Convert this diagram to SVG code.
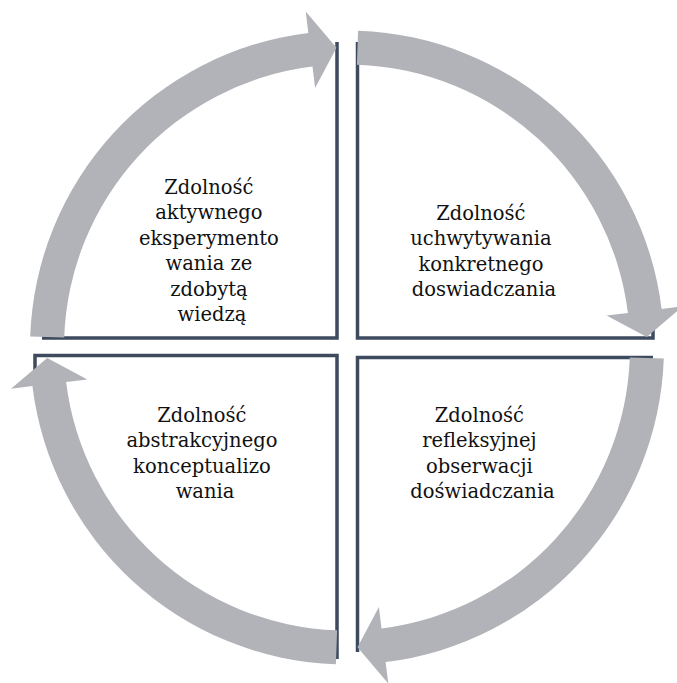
<svg xmlns="http://www.w3.org/2000/svg" xmlns:xlink="http://www.w3.org/1999/xlink" width="677" height="683" viewBox="0 0 677 683">
  <style>
    .edge { fill: none; stroke: #3E4A5E; stroke-width: 3.5; }
    .arrow { fill: #B1B3B9; }
    .label { font-family: "DejaVu Serif", "Liberation Serif", serif; font-size: 19.5px; fill: #111111; text-anchor: middle; }
  </style>
  <defs>
    <!-- curved arrow of the cycle: quarter ring around (347,347.5), tail at the left, head at the top -->
    <path id="cycle-arrow" class="arrow"
          d="M30.2,336.4 A317,317 0 0 1 308.4,32.9 L305.7,11.5 L336.5,47.7 L315.1,87.9 L312.5,66.6 A283,283 0 0 0 64.2,337.6 Z"/>
  </defs>

  <rect width="677" height="683" fill="#ffffff"/>

  <!-- quadrant nodes: inner border edges and labels -->
  <g id="node-experimentation">
    <path class="edge" d="M337,42 V338 H42"/>
    <text class="label">
      <tspan x="212" y="194">Zdolność</tspan>
      <tspan x="212" y="219.4">aktywnego</tspan>
      <tspan x="212" y="244.8">eksperymento</tspan>
      <tspan x="212" y="270.2">wania ze</tspan>
      <tspan x="212" y="295.6">zdobytą</tspan>
      <tspan x="212" y="321">wiedzą</tspan>
    </text>
  </g>
  <g id="node-experience">
    <path class="edge" d="M357.5,42 V338 H653 V330"/>
    <text class="label">
      <tspan x="484" y="219.5">Zdolność</tspan>
      <tspan x="484" y="245">uchwytywania</tspan>
      <tspan x="484" y="270.5">konkretnego</tspan>
      <tspan x="484" y="296">doswiadczania</tspan>
    </text>
  </g>
  <g id="node-observation">
    <path class="edge" d="M357.5,652 V357.5 H653"/>
    <text class="label">
      <tspan x="482.5" y="421.5">Zdolność</tspan>
      <tspan x="482.5" y="447">refleksyjnej</tspan>
      <tspan x="482.5" y="472.5">obserwacji</tspan>
      <tspan x="482.5" y="498">doświadczania</tspan>
    </text>
  </g>
  <g id="node-conceptualization">
    <path class="edge" d="M35,380 V355.5 H337 V659"/>
    <text class="label">
      <tspan x="205" y="421.5">Zdolność</tspan>
      <tspan x="205" y="447">abstrakcyjnego</tspan>
      <tspan x="205" y="472.5">konceptualizo</tspan>
      <tspan x="205" y="498">wania</tspan>
    </text>
  </g>

  <!-- connectors: four curved arrows running clockwise -->
  <g id="connectors">
    <use xlink:href="#cycle-arrow"/>
    <use xlink:href="#cycle-arrow" transform="rotate(90 347 347.5)"/>
    <use xlink:href="#cycle-arrow" transform="rotate(180 347 347.5)"/>
    <use xlink:href="#cycle-arrow" transform="rotate(270 347 347.5)"/>
  </g>
</svg>
